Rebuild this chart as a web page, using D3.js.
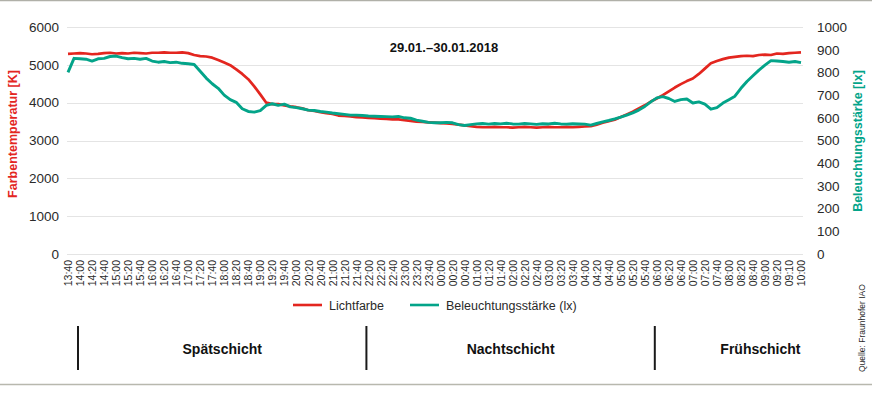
<!DOCTYPE html>
<html>
<head>
<meta charset="utf-8">
<script src="https://cdn.jsdelivr.net/npm/d3@7"></script>
<style>
	body { margin: 0; background: #fff; }
	svg { display: block; }
</style>
</head>
<body>
<div id="drawArea"></div>
<script>

// x tick labels, one every 20 minutes (the 09:10 is as printed in the original)
var timeLabels = ["13:40","14:00","14:20","14:40","15:00","15:20","15:40","16:00","16:20","16:40",
	"17:00","17:20","17:40","18:00","18:20","18:40","19:00","19:20","19:40","20:00",
	"20:20","20:40","21:00","21:20","21:40","22:00","22:20","22:40","23:00","23:20",
	"23:40","00:00","00:20","00:40","01:00","01:20","01:40","02:00","02:20","02:40",
	"03:00","03:20","03:40","04:00","04:20","04:40","05:00","05:20","05:40","06:00",
	"06:20","06:40","07:00","07:20","07:40","08:00","08:20","08:40","09:00","09:20",
	"09:10","10:00"];

// readings every 10 minutes from 13:40
var lichtfarbe = [
	5290,5300,5310,5300,5280,5290,5310,5320,5300,5310,
	5300,5320,5310,5300,5320,5320,5330,5320,5320,5330,
	5310,5260,5230,5220,5190,5130,5060,4990,4880,4760,
	4620,4430,4220,4000,3960,3960,3930,3900,3880,3850,
	3800,3780,3750,3720,3700,3660,3650,3640,3620,3610,
	3600,3590,3580,3570,3560,3560,3540,3520,3500,3490,
	3480,3470,3460,3450,3440,3420,3400,3380,3360,3350,
	3350,3360,3350,3350,3340,3350,3360,3350,3340,3350,
	3360,3350,3350,3360,3350,3360,3370,3380,3420,3470,
	3510,3550,3620,3690,3760,3850,3930,4030,4110,4200,
	4300,4400,4490,4570,4640,4760,4900,5040,5100,5150,
	5190,5210,5230,5240,5230,5260,5270,5260,5300,5290,
	5310,5320,5330];

var beleuchtung = [
	800,862,860,858,850,860,862,870,872,865,
	860,862,858,862,850,845,848,843,845,840,
	838,835,805,775,750,730,700,680,668,640,
	628,625,632,655,662,655,660,648,645,640,
	634,632,628,625,621,618,615,612,612,610,
	608,607,606,605,604,606,600,598,590,585,
	580,578,578,580,578,570,566,570,573,575,
	572,575,573,576,573,572,575,573,571,574,
	573,576,573,572,574,573,572,568,575,582,
	588,595,603,612,622,634,650,670,688,693,
	685,672,680,683,665,670,660,638,645,665,
	680,695,730,760,785,810,832,852,850,848,
	845,848,843];

var leftTicks = [0,1000,2000,3000,4000,5000,6000];
var rightTicks = [0,100,200,300,400,500,600,700,800,900,1000];

var shifts = [
	{ name: "Spätschicht", start: 20, end: 500 },
	{ name: "Nachtschicht", start: 500, end: 980 },
	{ name: "Frühschicht", start: 980, end: null }
];

var legendItems = [
	{ name: "Lichtfarbe", key: "red" },
	{ name: "Beleuchtungsstärke (lx)", key: "teal" }
];

var red = '#e3261f';
var teal = '#03a489';
var textCol = '#2a2a2a';
var gridCol = '#e4e4e4';
var font = 'Liberation Sans, Arial, Helvetica, sans-serif';

var svg_width = 872;
var svg_height = 395;

var svg = d3.select("#drawArea").append("svg")
	.attr("width", svg_width)
	.attr("height", svg_height)
	.style("font-family", font);

var plotTop = 27, plotBottom = 254, plotLeft = 68, plotRight = 801;

var x = d3.scaleLinear().domain([0, 1220]).range([plotLeft, plotRight]);
var yLeft = d3.scaleLinear().domain([0, 6000]).range([plotBottom, plotTop]);
var yRight = d3.scaleLinear().domain([0, 1000]).range([plotBottom, plotTop]);

// frame lines
svg.append("line")
	.attr("x1", 0).attr("x2", svg_width).attr("y1", 0.5).attr("y2", 0.5)
	.attr("stroke", "#b0b0a8").attr("stroke-width", 1.5);
svg.append("line")
	.attr("x1", 0).attr("x2", svg_width).attr("y1", 384.5).attr("y2", 384.5)
	.attr("stroke", "#b8b8ae").attr("stroke-width", 1.5);

// gridlines
svg.append("g")
	.selectAll("line.grid")
	.data(leftTicks)
	.enter()
	.append("line")
	.classed("grid", true)
	.attr("x1", plotLeft - 1)
	.attr("x2", plotRight + 2)
	.attr("y1", function(d) { return Math.round(yLeft(d)) + 0.5; })
	.attr("y2", function(d) { return Math.round(yLeft(d)) + 0.5; })
	.attr("stroke", gridCol)
	.attr("stroke-width", 1.2);

// left axis
var gLeft = svg.append("g")
	.attr("transform", "translate(" + (plotLeft - 9) + ",0)")
	.call(d3.axisLeft(yLeft).tickValues(leftTicks).tickFormat(d3.format("d")).tickSize(0).tickPadding(0));
gLeft.select(".domain").remove();
gLeft.selectAll("text")
	.attr("font-size", 13.5)
	.attr("font-family", font)
	.attr("fill", textCol);

// right axis
var gRight = svg.append("g")
	.attr("transform", "translate(" + (plotRight + 16) + ",0)")
	.call(d3.axisRight(yRight).tickValues(rightTicks).tickFormat(d3.format("d")).tickSize(0).tickPadding(0));
gRight.select(".domain").remove();
gRight.selectAll("text")
	.attr("font-size", 13.5)
	.attr("font-family", font)
	.attr("fill", textCol);

// x axis
var gX = svg.append("g")
	.attr("transform", "translate(0," + plotBottom + ")")
	.call(d3.axisBottom(x)
		.tickValues(d3.range(timeLabels.length).map(function(i) { return i * 20; }))
		.tickFormat(function(d, i) { return timeLabels[i]; })
		.tickSize(0));
gX.select(".domain").remove();
gX.selectAll("text")
	.attr("transform", "rotate(-90)")
	.attr("x", -6)
	.attr("y", 0)
	.attr("dy", "0.35em")
	.style("text-anchor", "end")
	.attr("font-size", 10.5)
	.attr("font-family", font)
	.attr("fill", textCol);

// axis titles
svg.append("text")
	.attr("transform", "translate(17,134) rotate(-90)")
	.attr("text-anchor", "middle")
	.attr("font-size", 12.5)
	.attr("font-weight", "bold")
	.attr("fill", red)
	.text("Farbentemperatur [K]");

svg.append("text")
	.attr("transform", "translate(862,141) rotate(-90)")
	.attr("text-anchor", "middle")
	.attr("font-size", 12.5)
	.attr("font-weight", "bold")
	.attr("fill", teal)
	.text("Beleuchtungsstärke [lx]");

// title
svg.append("text")
	.attr("x", 444)
	.attr("y", 52)
	.attr("text-anchor", "middle")
	.attr("font-size", 13)
	.attr("font-weight", "bold")
	.attr("fill", "#111")
	.text("29.01.–30.01.2018");

// lines
var lineLeft = d3.line()
	.x(function(d, i) { return x(i * 10); })
	.y(function(d) { return yLeft(d); });
var lineRight = d3.line()
	.x(function(d, i) { return x(i * 10); })
	.y(function(d) { return yRight(d); });

svg.append("path")
	.datum(lichtfarbe)
	.attr("d", lineLeft)
	.attr("fill", "none")
	.attr("stroke", red)
	.attr("stroke-width", 2.7)
	.attr("stroke-linejoin", "round");

svg.append("path")
	.datum(beleuchtung)
	.attr("d", lineRight)
	.attr("fill", "none")
	.attr("stroke", teal)
	.attr("stroke-width", 2.9)
	.attr("stroke-linejoin", "round");

// legend
var legendX = [293, 410];
var leg = svg.append("g")
	.selectAll("g.leg")
	.data(legendItems)
	.enter()
	.append("g")
	.classed("leg", true)
	.attr("transform", function(d, i) { return "translate(" + legendX[i] + ",305)"; });
leg.append("line")
	.attr("x1", 0).attr("x2", 29).attr("y1", 0).attr("y2", 0)
	.attr("stroke", function(d) { return d.key == "red" ? red : teal; })
	.attr("stroke-width", 2.6);
leg.append("text")
	.attr("x", 36)
	.attr("y", 4.5)
	.attr("font-size", 12.5)
	.attr("fill", textCol)
	.text(function(d) { return d.name; });

// shift section
var bounds = [20, 500, 980];
svg.append("g")
	.selectAll("line.shift")
	.data(bounds)
	.enter()
	.append("line")
	.classed("shift", true)
	.attr("x1", function(d) { return x(d) - 2; })
	.attr("x2", function(d) { return x(d) - 2; })
	.attr("y1", 326)
	.attr("y2", 370)
	.attr("stroke", "#1a1a1a")
	.attr("stroke-width", 2);

svg.append("g")
	.selectAll("text.shift")
	.data(shifts)
	.enter()
	.append("text")
	.attr("x", function(d) {
		var a = x(d.start) - 2;
		var b = d.end === null ? 866 : x(d.end) - 2;
		return (a + b) / 2;
	})
	.attr("y", 354)
	.attr("text-anchor", "middle")
	.attr("font-size", 14)
	.attr("font-weight", "bold")
	.attr("fill", "#111")
	.text(function(d) { return d.name; });

// source
svg.append("text")
	.attr("transform", "translate(865,372) rotate(-90)")
	.attr("font-size", 8.5)
	.attr("fill", textCol)
	.text("Quelle: Fraunhofer IAO");

</script>
</body>
</html>
